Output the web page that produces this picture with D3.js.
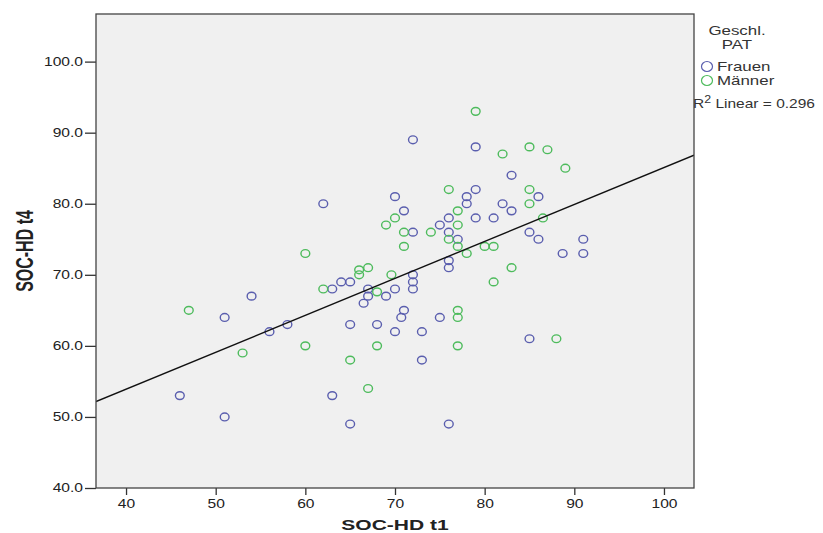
<!DOCTYPE html>
<html>
<head>
<meta charset="utf-8">
<script src="https://cdn.jsdelivr.net/npm/d3@7"></script>
<style>
  body { margin: 0; background: #ffffff; }
  svg { display: block; font-family: "Liberation Sans", Arial, sans-serif; }
</style>
</head>
<body>
<script>
// SOC-HD t1 / t4 values
const frauenT1 = [72, 79, 83, 79, 70, 86, 78, 62, 78, 82, 71, 83, 76, 79, 81, 75, 72, 76, 85, 77,
    86, 91, 88.7, 91, 76, 76, 72, 72, 64, 65, 63, 67, 70, 72, 54, 67, 69, 66.5, 71, 70.7,
    75, 51, 58, 65, 68, 56, 70, 73, 85, 73, 46, 63, 51, 65, 76];
const frauenT4 = [89, 88, 84, 82, 81, 81, 81, 80, 80, 80, 79, 79, 78, 78, 78, 77, 76, 76, 76, 75,
    75, 75, 73, 73, 72, 71, 70, 69, 69, 69, 68, 68, 68, 68, 67, 67, 67, 66, 65, 64,
    64, 64, 63, 63, 63, 62, 62, 62, 61, 58, 53, 53, 50, 49, 49];

const maennerT1 = [79, 85, 87, 82, 89, 76, 85, 85, 77, 70, 86.5, 69, 77, 71, 74, 76, 71, 77, 80, 81,
    78, 60, 83, 67, 66, 66, 69.6, 81, 62, 68, 47, 77, 77, 60, 68, 77, 88, 53, 65, 67];
const maennerT4 = [93, 88, 87.6, 87, 85, 82, 82, 80, 79, 78, 78, 77, 77, 76, 76, 75, 74, 74, 74, 74,
    73, 73, 71, 71, 70.7, 70, 70, 69, 68, 67.6, 65, 65, 64, 60, 60, 60, 61, 59, 58, 54];

const xTicks = [40, 50, 60, 70, 80, 90, 100];
const yTicks = [40, 50, 60, 70, 80, 90, 100];

// linear fit line
const fitIntercept = 33.1;
const fitSlope = 0.52;
const rSquared = "0.296";

const groupNames = ["Frauen", "Männer"];
const groupColors = ["#5a5eae", "#4dbb5c"];

const svgWidth = 823;
const svgHeight = 533;
const plot = { left: 96, right: 694, top: 14, bottom: 488 };

// the picture is stretched sideways, text included
const textStretch = 1.3;
const titleStretch = 1.45;

const svg = d3.select("body")
    .append("svg")
    .attr("width", svgWidth)
    .attr("height", svgHeight);

const x = d3.scaleLinear()
    .domain([36.65, 103.35])
    .range([plot.left, plot.right]);

const y = d3.scaleLinear()
    .domain([40, 106.7])
    .range([plot.bottom, plot.top]);

// plot background
svg.append("rect")
    .attr("x", plot.left)
    .attr("y", plot.top)
    .attr("width", plot.right - plot.left)
    .attr("height", plot.bottom - plot.top)
    .style("fill", "#f0f0f0");

svg.append("clipPath").attr("id", "plotclip")
    .append("rect")
    .attr("x", plot.left)
    .attr("y", plot.top)
    .attr("width", plot.right - plot.left)
    .attr("height", plot.bottom - plot.top);

// axes
const xAxis = svg.append("g")
    .attr("transform", `translate(0,${plot.bottom})`)
    .call(d3.axisBottom(x).tickValues(xTicks).tickSize(7).tickPadding(4).tickFormat(d3.format("d")));

const yAxis = svg.append("g")
    .attr("transform", `translate(${plot.left},0)`)
    .call(d3.axisLeft(y).tickValues(yTicks).tickSize(11).tickPadding(2).tickFormat(d3.format(".1f")));

[xAxis, yAxis].forEach(ax => {
    ax.select(".domain").remove();
    ax.selectAll(".tick line").style("stroke", "#333").style("stroke-width", 1.3);
    ax.selectAll(".tick text")
        .style("font-family", "Liberation Sans, Arial, sans-serif")
        .style("font-size", "12px")
        .style("fill", "#222")
        .attr("transform", `scale(${textStretch},1)`);
});
yAxis.selectAll(".tick text").attr("x", -13 / textStretch);

// points
const pointGroups = [
    { t1: frauenT1, t4: frauenT4, color: groupColors[0] },
    { t1: maennerT1, t4: maennerT4, color: groupColors[1] }
];

const pointsLayer = svg.append("g").attr("clip-path", "url(#plotclip)");

pointGroups.forEach(g => {
    pointsLayer.selectAll(null)
        .data(g.t1.map((v, i) => [v, g.t4[i]]))
        .enter()
        .append("ellipse")
        .attr("cx", d => x(d[0]))
        .attr("cy", d => y(d[1]))
        .attr("rx", 4.4)
        .attr("ry", 3.9)
        .style("fill", "none")
        .style("stroke", g.color)
        .style("stroke-width", 1.4);
});

// fit line
const xDom = x.domain();
pointsLayer.append("line")
    .attr("x1", x(xDom[0]))
    .attr("y1", y(fitIntercept + fitSlope * xDom[0]))
    .attr("x2", x(xDom[1]))
    .attr("y2", y(fitIntercept + fitSlope * xDom[1]))
    .style("stroke", "#111")
    .style("stroke-width", 1.4);

// frame
svg.append("rect")
    .attr("x", plot.left)
    .attr("y", plot.top)
    .attr("width", plot.right - plot.left)
    .attr("height", plot.bottom - plot.top)
    .style("fill", "none")
    .style("stroke", "#444")
    .style("stroke-width", 1.3);

// axis titles
svg.append("text")
    .attr("transform", `translate(${(plot.left + plot.right) / 2},530) scale(${titleStretch},1)`)
    .attr("text-anchor", "middle")
    .style("font-size", "14.5px")
    .style("font-weight", "bold")
    .style("fill", "#222")
    .text("SOC-HD t1");

svg.append("text")
    .attr("transform", `translate(33,${(plot.top + plot.bottom) / 2}) scale(${titleStretch},1) rotate(-90)`)
    .attr("text-anchor", "middle")
    .style("font-size", "16px")
    .style("font-weight", "bold")
    .style("fill", "#222")
    .text("SOC-HD t4");

// legend
const legend = svg.append("g");

legend.selectAll("text.title")
    .data(["Geschl.", "PAT"])
    .enter()
    .append("text")
    .attr("class", "title")
    .attr("transform", (d, i) => `translate(737,${35 + i * 14}) scale(${textStretch},1)`)
    .attr("text-anchor", "middle")
    .style("font-size", "13px")
    .style("fill", "#333")
    .text(d => d);

const items = legend.selectAll("g.item")
    .data(groupNames)
    .enter()
    .append("g")
    .attr("class", "item")
    .attr("transform", (d, i) => `translate(707,${66.5 + i * 14})`);

items.append("ellipse")
    .attr("rx", 5.5)
    .attr("ry", 5)
    .style("fill", "none")
    .style("stroke", (d, i) => groupColors[i])
    .style("stroke-width", 1.2);

items.append("text")
    .attr("transform", `translate(10,4.5) scale(${textStretch},1)`)
    .style("font-size", "13px")
    .style("fill", "#333")
    .text(d => d);

const r2 = legend.append("text")
    .attr("transform", "translate(693,107.5) scale(1.24,1)")
    .style("font-size", "12.5px")
    .style("fill", "#333");
r2.append("tspan").text("R");
r2.append("tspan").attr("dy", -5).style("font-size", "10px").text("2");
r2.append("tspan").attr("dy", 5).text(" Linear = " + rSquared);
</script>
</body>
</html>
